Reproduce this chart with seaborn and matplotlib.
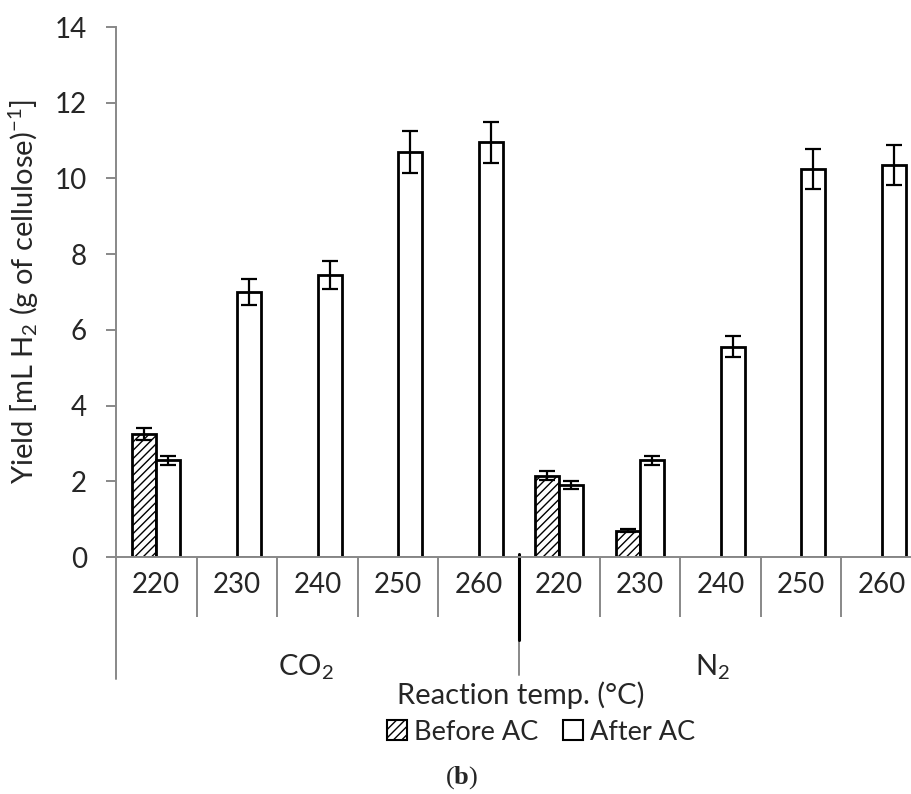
import matplotlib
matplotlib.use("Agg")
import matplotlib.pyplot as plt
import matplotlib.patches as mpatches
import numpy as np
import pandas as pd
import seaborn as sns

# data
gases = ["CO$_2$", "N$_2$"]
temps = [220, 230, 240, 250, 260]
before_ac = [3.25, np.nan, np.nan, np.nan, np.nan, 2.15, 0.70, np.nan, np.nan, np.nan]
before_err = [0.15, np.nan, np.nan, np.nan, np.nan, 0.11, 0.04, np.nan, np.nan, np.nan]
after_ac = [2.55, 7.0, 7.45, 10.7, 10.95, 1.90, 2.55, 5.55, 10.25, 10.35]
after_err = [0.13, 0.35, 0.37, 0.55, 0.55, 0.10, 0.13, 0.28, 0.52, 0.52]

cats = [f"{g}-{t}" for g in gases for t in temps]
df = pd.DataFrame({
    "cat": cats * 2,
    "series": ["Before AC"] * 10 + ["After AC"] * 10,
    "value": before_ac + after_ac,
    "err": before_err + after_err,
})

sns.set_style("white")
plt.rcParams["font.family"] = ["Lato", "DejaVu Sans"]
plt.rcParams["hatch.linewidth"] = 1.0
plt.rcParams["mathtext.fontset"] = "custom"
plt.rcParams["mathtext.rm"] = "Lato"
plt.rcParams["mathtext.it"] = "Lato:italic"
plt.rcParams["mathtext.bf"] = "Liberation Serif:bold"

fig = plt.figure(figsize=(9.12, 7.94), dpi=100)
ax = fig.add_axes([116 / 912, 1 - 557 / 794, 806 / 912, 530 / 794])

sns.barplot(data=df, x="cat", y="value", hue="series", order=cats,
            hue_order=["Before AC", "After AC"], width=0.6,
            palette={"Before AC": "white", "After AC": "white"},
            edgecolor="black", linewidth=2, errorbar=None, legend=False, ax=ax)

for bar in ax.patches:
    bar.set_zorder(2)
for cont, hatch in zip(ax.containers, ["////", ""]):
    for bar in cont:
        bar.set_hatch(hatch)

# error bars, dodged like the bars
for k, (vals, errs) in enumerate([(before_ac, before_err), (after_ac, after_err)]):
    off = -0.15 if k == 0 else 0.15
    xs = np.arange(len(cats)) + off
    ax.errorbar(xs, vals, yerr=errs, fmt="none", ecolor="black",
                elinewidth=1.6, capsize=6, capthick=1.6, zorder=3)

ax.set_xlim(-0.5, 9.5)
ax.set_ylim(0, 14)
ax.set_yticks(range(0, 15, 2))
ax.tick_params(axis="y", labelsize=20, length=7, width=1.4, color="#888888",
               left=True, pad=14)
ax.set_ylabel("Yield [mL H$_2$ (g of cellulose)$^{-1}$]", fontsize=21, labelpad=10)
ax.set_xlabel("")

ax.set_xticks(range(len(cats)))
ax.set_xticklabels([str(t) for t in temps] * 2, fontsize=20)
ax.tick_params(axis="x", which="major", length=0, pad=11, bottom=False)
ax.set_xticks(np.arange(0.5, 9.5, 1), minor=True)
ax.tick_params(axis="x", which="minor", length=43, width=1.4, color="#888888", bottom=True)

for s in ["top", "right"]:
    ax.spines[s].set_visible(False)
for s in ["left", "bottom"]:
    ax.spines[s].set_color("#888888")
    ax.spines[s].set_linewidth(1.4)

trans = ax.get_xaxis_transform()
ax.plot([-0.5, -0.5], [0, -0.23], color="#888888", lw=1.4, transform=trans, clip_on=False)
ax.plot([4.5, 4.5], [0, -0.222], color="#888888", lw=1.4, transform=trans, clip_on=False)
ax.plot([4.5, 4.5], [0.005, -0.157], color="black", lw=2.2, transform=trans, clip_on=False)

ax.text(1.85, -0.208, gases[0], transform=trans, ha="center", va="center", fontsize=21)
ax.text(6.9, -0.208, gases[1], transform=trans, ha="center", va="center", fontsize=21)

fig.text(521 / 912, 1 - 695 / 794, "Reaction temp. (°C)", ha="center", va="center", fontsize=21)

handles = [mpatches.Patch(facecolor="white", edgecolor="black", hatch="////", lw=1.5, label="Before AC"),
           mpatches.Patch(facecolor="white", edgecolor="black", lw=1.5, label="After AC")]
fig.legend(handles=handles, loc="center", bbox_to_anchor=(541 / 912, 1 - 732 / 794), ncol=2,
           frameon=False, fontsize=19.5, handlelength=0.75, handleheight=0.75,
           handletextpad=0.25, columnspacing=0.9)

fig.text(462 / 912, 1 - 778 / 794, r"($\mathbf{b}$)", ha="center", va="center",
         fontsize=19, family="Liberation Serif")

fig.savefig("out.png", dpi=100)
